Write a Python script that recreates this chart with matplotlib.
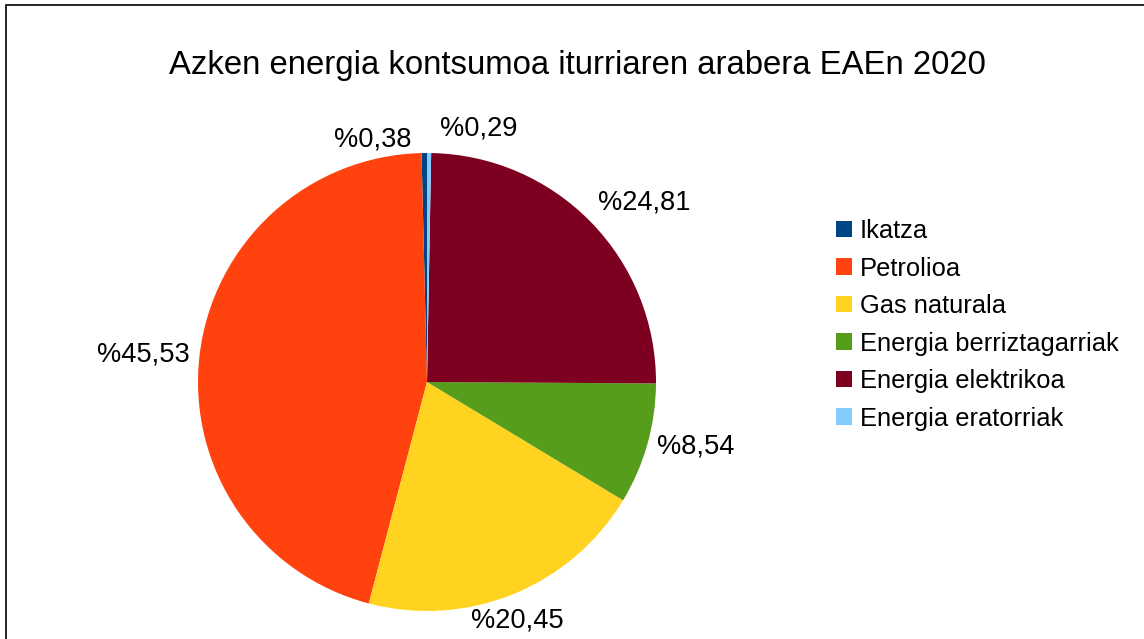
import numpy as np
import matplotlib.pyplot as plt
from matplotlib.patches import Patch

plt.rcParams['font.family'] = ['Liberation Sans', 'DejaVu Sans']

# data (percentages)
sources = ['Ikatza', 'Petrolioa', 'Gas naturala', 'Energia berriztagarriak',
           'Energia elektrikoa', 'Energia eratorriak']
shares = [0.38, 45.53, 20.45, 8.54, 24.81, 0.29]
colors = ['#004586', '#ff420e', '#ffd320', '#579d1c', '#7e0021', '#83caff']
title = 'Azken energia kontsumoa iturriaren arabera EAEn 2020'

W, H = 1144, 639
fig = plt.figure(figsize=(W / 100, H / 100), dpi=100)
ax = fig.add_axes([0, 0, 1, 1])

# pie in pixel coordinates (y up)
cx, cy, R = 427, H - 382, 229
wedges, _ = ax.pie(shares, colors=colors, startangle=90, counterclock=True,
                   center=(cx, cy), radius=R, frame=True)
ax.set_xlim(0, W)
ax.set_ylim(0, H)
ax.set_aspect('equal')
ax.axis('off')

# data labels outside the pie, like the spreadsheet export
nudge = {0: (-13, -9), 5: (11, 2)}  # small slices near the top are staggered
for i, w in enumerate(wedges):
    ang = np.deg2rad((w.theta1 + w.theta2) / 2)
    c, s = np.cos(ang), np.sin(ang)
    x, y = cx + (R + 10) * c, cy + (R + 10) * s
    ha = 'left' if c > 0.5 else ('right' if c < -0.5 else 'center')
    va = 'bottom' if s > 0.5 else ('top' if s < -0.5 else 'center')
    if va == 'top':
        y -= 4
    if i in nudge:
        dx, dy = nudge[i]
        x, y = x + dx, y + dy
        ha = 'right' if dx < 0 else 'left'
    txt = '%' + f'{shares[i]:.2f}'.replace('.', ',')
    ax.text(x, y, txt, ha=ha, va=va, fontsize=19.6, color='black')

# title
ax.text(577, H - 74, title, ha='center', va='baseline', fontsize=23.7)

# legend
handles = [Patch(facecolor=col, edgecolor='none') for col in colors]
fig.legend(handles, sources, loc='upper left', bbox_to_anchor=(836 / W, 1 - 219 / H),
           frameon=False, fontsize=18.4, handlelength=0.62, handleheight=0.62,
           handletextpad=0.32, labelspacing=0.53, borderaxespad=0, borderpad=0)

# outer border (only top and left edges visible in the crop)
ax.plot([6, 6, W], [0, H - 5, H - 5], color='black', lw=1.2, solid_joinstyle='miter')

fig.savefig('out.png', dpi=100)
